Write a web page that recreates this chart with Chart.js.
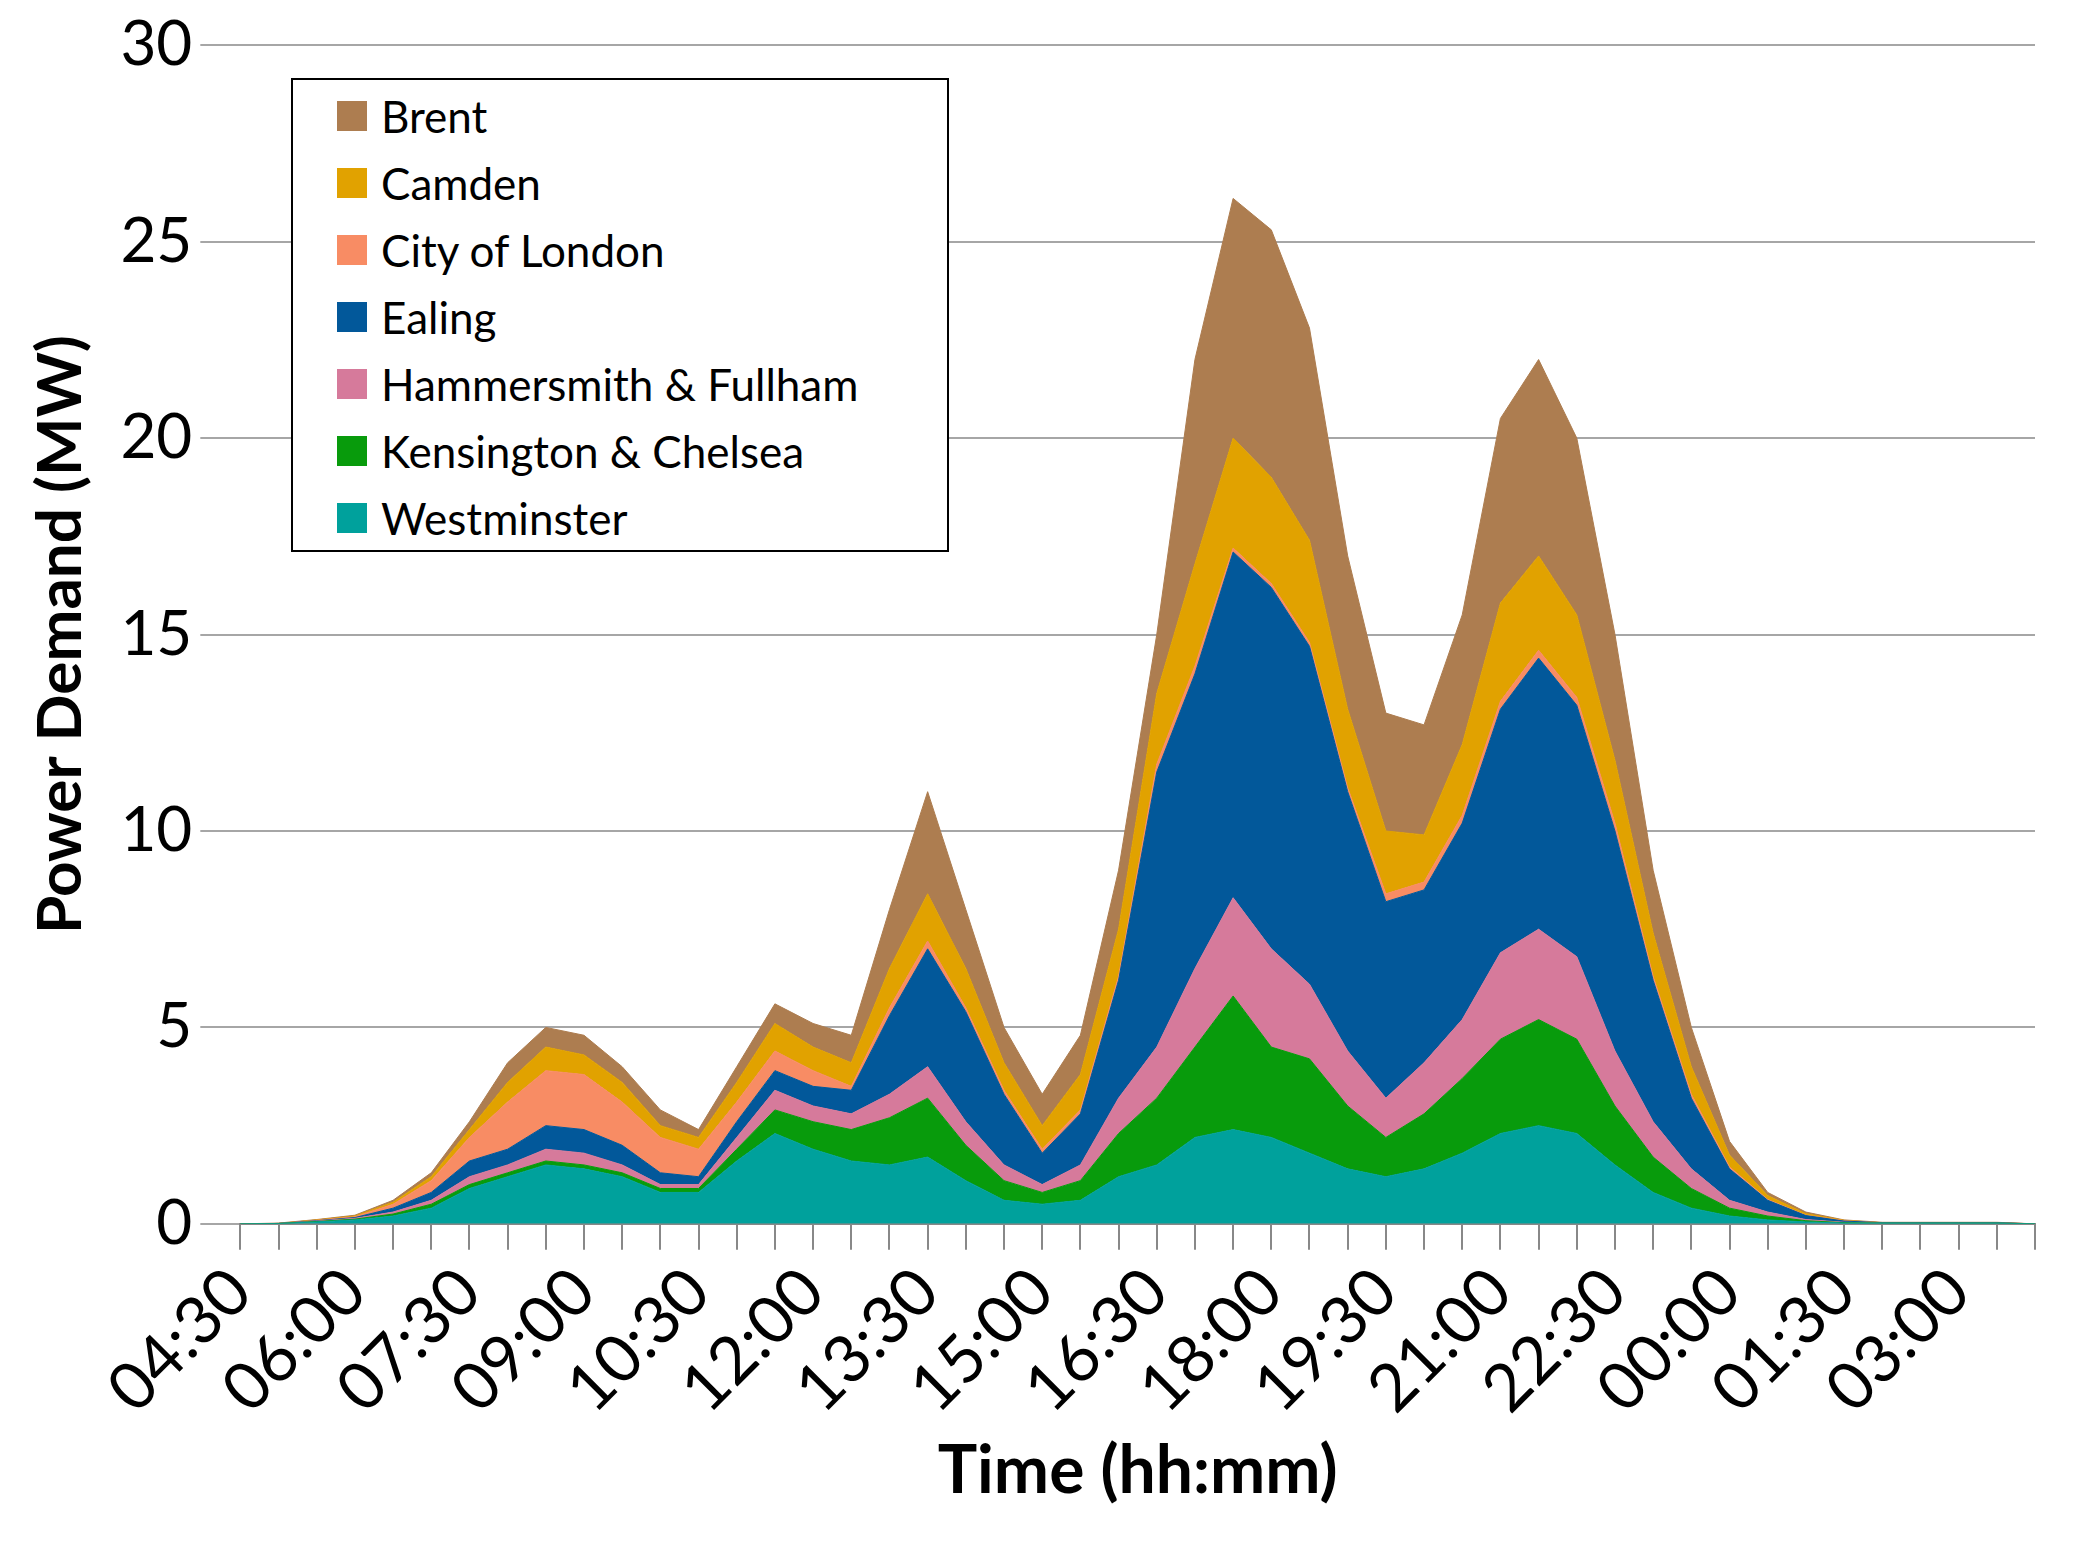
<!DOCTYPE html>
<html><head><meta charset="utf-8">
<script src="https://cdn.jsdelivr.net/npm/chart.js@4/dist/chart.umd.min.js"></script>
<style>
html,body{margin:0;padding:0;background:#fff;}
#wrap{position:relative;width:2094px;height:1555px;}
#legend{position:absolute;left:291px;top:78px;width:658px;height:474px;border:2px solid #000;background:#fff;font-family:Lato,"Open Sans",sans-serif;font-size:44px;box-sizing:border-box;padding:2px 0 0 44px;}
.item{display:flex;align-items:center;height:67px;}
.sw{width:30px;height:30px;margin-right:14px;}
</style></head>
<body><div id="wrap"><canvas id="c" width="2094" height="1555"></canvas><div id="legend"></div></div>
<script>
const times=["04:30","05:00","05:30","06:00","06:30","07:00","07:30","08:00","08:30","09:00","09:30","10:00","10:30","11:00","11:30","12:00","12:30","13:00","13:30","14:00","14:30","15:00","15:30","16:00","16:30","17:00","17:30","18:00","18:30","19:00","19:30","20:00","20:30","21:00","21:30","22:00","22:30","23:00","23:30","00:00","00:30","01:00","01:30","02:00","02:30","03:00","03:30","04:00"];
const westminster=[0,0.01,0.05,0.1,0.2,0.4,0.9,1.2,1.5,1.4,1.2,0.8,0.8,1.6,2.3,1.9,1.6,1.5,1.7,1.1,0.6,0.5,0.6,1.2,1.5,2.2,2.4,2.2,1.8,1.4,1.2,1.4,1.8,2.3,2.5,2.3,1.5,0.8,0.4,0.2,0.1,0.05,0.02,0.02,0.02,0.02,0.02,0];
const kensington=[0,0,0.01,0.02,0.05,0.1,0.1,0.1,0.1,0.1,0.1,0.1,0.1,0.3,0.6,0.7,0.8,1.2,1.5,0.9,0.5,0.3,0.5,1.1,1.7,2.3,3.4,2.3,2.4,1.6,1.0,1.4,1.9,2.4,2.7,2.4,1.5,0.9,0.5,0.2,0.1,0.03,0.01,0,0,0,0,0];
const hammersmith=[0,0,0.01,0.02,0.05,0.1,0.2,0.2,0.3,0.3,0.2,0.1,0.1,0.3,0.5,0.4,0.4,0.6,0.8,0.6,0.4,0.2,0.4,0.9,1.3,2.0,2.5,2.5,1.9,1.4,1.0,1.3,1.5,2.2,2.3,2.1,1.4,0.9,0.5,0.2,0.1,0.03,0.01,0,0,0,0,0];
const ealing=[0,0,0.01,0.02,0.1,0.2,0.4,0.4,0.6,0.6,0.5,0.3,0.2,0.4,0.5,0.5,0.6,2.0,3.0,2.8,1.8,0.8,1.3,3.0,7.0,7.5,8.8,9.2,8.6,6.6,5.0,4.4,5.0,6.2,6.9,6.4,5.6,3.6,1.8,0.8,0.3,0.1,0.03,0.01,0.01,0.01,0.01,0];
const cityOfLondon=[0,0,0.01,0.02,0.1,0.3,0.6,1.2,1.4,1.4,1.1,0.9,0.7,0.5,0.5,0.4,0.1,0.2,0.2,0.1,0.1,0.1,0.1,0.1,0.2,0.2,0.1,0.1,0.1,0.1,0.2,0.2,0.2,0.2,0.2,0.2,0.2,0.1,0.1,0.05,0.02,0.01,0.01,0,0,0,0,0];
const camden=[0,0,0.01,0.02,0.05,0.1,0.2,0.5,0.6,0.5,0.5,0.3,0.3,0.5,0.7,0.6,0.6,1.0,1.2,1.0,0.7,0.6,0.9,1.2,1.8,2.6,2.8,2.7,2.6,2.0,1.6,1.2,1.8,2.5,2.4,2.1,1.6,1.1,0.7,0.3,0.1,0.04,0.01,0,0,0,0,0];
const brent=[0,0.01,0.01,0.02,0.05,0.1,0.2,0.5,0.5,0.5,0.4,0.4,0.2,0.4,0.5,0.6,0.7,1.5,2.6,1.5,0.9,0.8,1.0,1.5,1.5,5.2,6.1,6.3,5.4,3.9,3.0,2.8,3.3,4.7,5.0,4.5,3.2,1.6,1.0,0.35,0.08,0.04,0.01,0.01,0.01,0.01,0.01,0];
const yTicks=[0,5,10,15,20,25,30];
const series=[
 ["Westminster",westminster,"#00a19c"],
 ["Kensington & Chelsea",kensington,"#089b0c"],
 ["Hammersmith & Fullham",hammersmith,"#d67a9b"],
 ["Ealing",ealing,"#02589a"],
 ["City of London",cityOfLondon,"#f88c64"],
 ["Camden",camden,"#e1a200"],
 ["Brent",brent,"#ad7d50"]];
const datasets=series.map((s,i)=>({label:s[0],data:s[1],backgroundColor:s[2],borderColor:s[2],borderWidth:1,fill:i===0?'origin':'-1',pointRadius:0,tension:0}));
const lg=document.getElementById('legend');
series.slice().reverse().forEach(s=>{const d=document.createElement('div');d.className='item';d.innerHTML='<div class="sw" style="background:'+s[2]+'"></div>'+s[0];lg.appendChild(d);});
const F='Lato, "Open Sans", sans-serif';
new Chart(document.getElementById('c'),{type:'line',data:{labels:times,datasets},
options:{responsive:false,animation:false,layout:{padding:{top:22,right:12,left:20,bottom:40}},
plugins:{legend:{display:false},tooltip:{enabled:false}},
scales:{
 x:{offset:false,grid:{drawOnChartArea:false,color:'#888',lineWidth:2,tickLength:26},border:{color:'#888',width:2},
  ticks:{autoSkip:false,maxRotation:45,minRotation:45,font:{family:F,size:66},color:'#000',callback:(v,i)=>i%3===0?times[i]:''},
  title:{display:true,text:'Time (hh:mm)',font:{family:F,size:66,weight:'bold'},color:'#000',padding:{top:0}}},
 y:{stacked:true,min:0,max:30,grid:{color:'#a6a6a6',lineWidth:2,tickLength:40},border:{display:false},
  ticks:{stepSize:5,font:{family:F,size:62},color:'#000',padding:8,callback:v=>yTicks.includes(v)?v:''},
  title:{display:true,text:'Power Demand (MW)',font:{family:F,size:62,weight:'bold'},color:'#000',padding:{bottom:14}}}}}});
</script></body></html>
